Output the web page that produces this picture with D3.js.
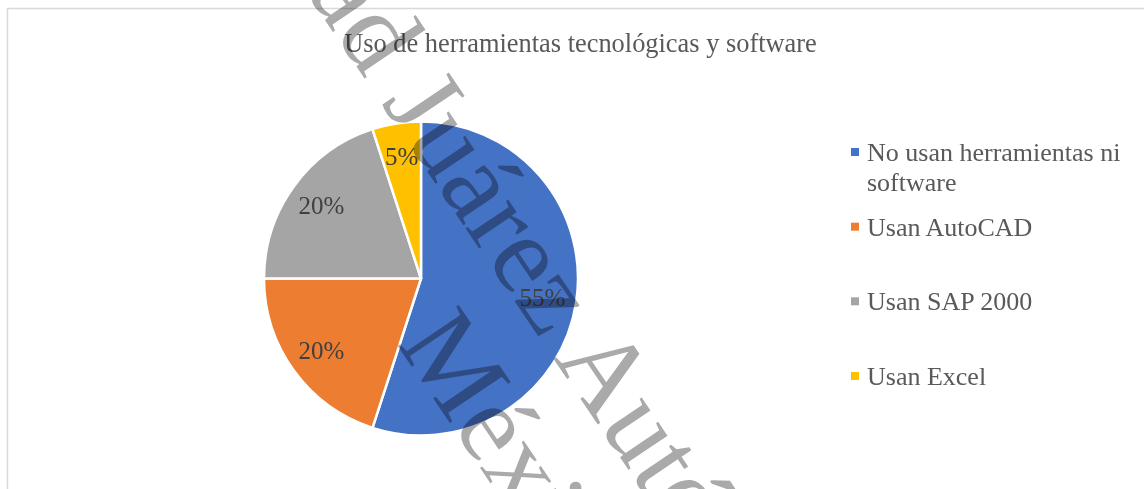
<!DOCTYPE html>
<meta charset="utf-8">
<script src="https://d3js.org/d3.v7.min.js"></script>
<style>
  body { margin: 0; background: #fff; }
  text { font-family: "Liberation Serif", "Times New Roman", serif; }
</style>
<div id="my_dataviz"></div>
<script>

// data
var categories = ["No usan herramientas ni software", "Usan AutoCAD", "Usan SAP 2000", "Usan Excel"];
var legendLines = [["No usan herramientas ni", "software"], ["Usan AutoCAD"], ["Usan SAP 2000"], ["Usan Excel"]];
var values = [55, 20, 20, 5];
var colorsList = ["#4472C4", "#ED7D31", "#A5A5A5", "#FFC000"];
var title = "Uso de herramientas tecnológicas y software";
var watermark = ["Universidad Juárez Autónoma de Tabasco", "México"];

var width = 1144, height = 489;
var serif = "'Liberation Serif', 'Times New Roman', serif";

var svg = d3.select("#my_dataviz")
  .append("svg")
    .attr("width", width)
    .attr("height", height);

// chart area border (runs off the right and bottom edges)
svg.append("rect")
  .attr("x", 7.5)
  .attr("y", 8.5)
  .attr("width", 1200)
  .attr("height", 600)
  .attr("fill", "white")
  .attr("stroke", "#d9d9d9")
  .attr("stroke-width", 1.5);

svg.append("text")
  .attr("x", 580.5)
  .attr("y", 52)
  .attr("text-anchor", "middle")
  .attr("font-family", serif)
  .attr("font-size", 26.4)
  .attr("fill", "#595959")
  .text(title);

// pie
var radius = 157;
var cx = 421, cy = 278.5;
var color = d3.scaleOrdinal().domain(categories).range(colorsList);

var pie = d3.pie().sort(null).value(function(d) { return d.value; });
var data = categories.map(function(c, i) { return {name: c, value: values[i]}; });
var arcs = pie(data);
var total = d3.sum(values);

var arc = d3.arc().innerRadius(0).outerRadius(radius);
var labelArc = d3.arc().innerRadius(123).outerRadius(123);

var g = svg.append("g").attr("transform", "translate(" + cx + "," + cy + ")");

g.selectAll("path")
  .data(arcs)
  .enter()
  .append("path")
    .attr("d", arc)
    .attr("fill", function(d) { return color(d.data.name); })
    .attr("stroke", "white")
    .attr("stroke-width", 2.5)
    .attr("stroke-linejoin", "round");

g.selectAll(".lbl")
  .data(arcs)
  .enter()
  .append("text")
    .attr("class", "lbl")
    .attr("transform", function(d) { return "translate(" + labelArc.centroid(d) + ")"; })
    .attr("text-anchor", "middle")
    .attr("dy", "0.32em")
    .attr("font-family", serif)
    .attr("font-size", 25)
    .attr("fill", "#404040")
    .text(function(d) { return Math.round(d.data.value / total * 100) + "%"; });

// legend
var legendY = d3.scalePoint().domain(categories).range([161, 385]);
var legend = svg.append("g");
var item = legend.selectAll("g")
  .data(categories)
  .enter()
  .append("g")
    .attr("transform", function(d) { return "translate(851," + legendY(d) + ")"; });

item.append("rect")
  .attr("x", 0)
  .attr("y", -13)
  .attr("width", 8)
  .attr("height", 8)
  .attr("fill", function(d) { return color(d); });

item.append("text")
  .attr("x", 16)
  .attr("font-family", serif)
  .attr("font-size", 26)
  .attr("fill", "#595959")
  .selectAll("tspan")
  .data(function(d, i) { return legendLines[i]; })
  .enter()
  .append("tspan")
    .attr("x", 16)
    .attr("dy", function(d, i) { return i === 0 ? 0 : 30; })
    .text(function(d) { return d; });

// watermark overlay (grey, multiplied over the chart)
var wm = svg.append("g")
  .attr("transform", "translate(553,358) rotate(56)")
  .attr("fill", "#aaaaaa")
  .style("mix-blend-mode", "multiply")
  .attr("font-family", serif);

var line1 = wm.append("text")
  .attr("font-size", 112)
  .text(watermark[0]);
var offA = line1.node().getStartPositionOfChar(watermark[0].indexOf("A")).x;
line1.attr("x", -offA);

wm.append("text")
  .attr("font-size", 112)
  .attr("x", -100)
  .attr("y", 122)
  .text(watermark[1]);

</script>
